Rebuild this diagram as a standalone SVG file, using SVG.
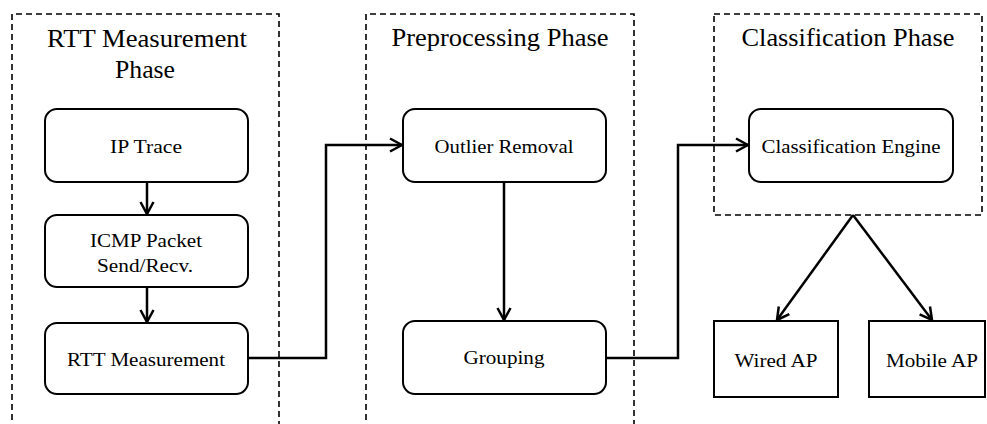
<svg xmlns="http://www.w3.org/2000/svg" width="987" height="424" viewBox="0 0 987 424">
<style>
.phase{fill:none;stroke:#000;stroke-width:1.6;stroke-dasharray:6,4}
.node{fill:#fff;stroke:#000;stroke-width:2}
.t{font-family:'Liberation Serif','Times New Roman',Times,serif;font-size:19.5px;fill:#000;text-anchor:middle}
.h{font-family:'Liberation Serif','Times New Roman',Times,serif;font-size:25px;fill:#000;text-anchor:middle}
.c{fill:none;stroke:#000;stroke-width:2.5;stroke-linejoin:miter}
</style>
<defs>
<marker id="ah" viewBox="0 0 16 16" refX="14" refY="8" markerWidth="16" markerHeight="16" markerUnits="userSpaceOnUse" orient="auto">
<path d="M2,1.5 L14,8 L2,14.5" fill="none" stroke="#000" stroke-width="2.5"/>
</marker>
</defs>
<rect width="987" height="424" fill="#fff"/>
<g id="phase-rtt">
<path class="phase" d="M12,430 V14 H279 V430"/>
<text class="h" x="147" y="47" textLength="200" lengthAdjust="spacingAndGlyphs">RTT Measurement</text>
<text class="h" x="145" y="78" textLength="60" lengthAdjust="spacingAndGlyphs">Phase</text>
</g>
<g id="phase-pre">
<path class="phase" d="M366,430 V14 H634 V430"/>
<text class="h" x="500" y="46" textLength="217" lengthAdjust="spacingAndGlyphs">Preprocessing  Phase</text>
</g>
<g id="phase-cls">
<rect class="phase" x="714" y="14" width="268" height="201"/>
<text class="h" x="848" y="46" textLength="213" lengthAdjust="spacingAndGlyphs">Classification  Phase</text>
</g>
<g id="connectors">
<line class="c" x1="147" y1="182" x2="147" y2="214" marker-end="url(#ah)"/>
<line class="c" x1="147" y1="287" x2="147" y2="322" marker-end="url(#ah)"/>
<polyline class="c" points="248,358 326,358 326,145 402,145" marker-end="url(#ah)"/>
<line class="c" x1="504" y1="182" x2="504" y2="320" marker-end="url(#ah)"/>
<polyline class="c" points="606,358 678,358 678,145 748,145" marker-end="url(#ah)"/>
<line class="c" x1="853" y1="215" x2="777" y2="320" marker-end="url(#ah)"/>
<line class="c" x1="853" y1="215" x2="932" y2="320" marker-end="url(#ah)"/>
</g>
<g id="ip-trace">
<rect class="node" x="45" y="109" width="203" height="73" rx="12"/>
<text class="t" x="146" y="153" textLength="72" lengthAdjust="spacingAndGlyphs">IP Trace</text>
</g>
<g id="icmp">
<rect class="node" x="45" y="215" width="203" height="72" rx="12"/>
<text class="t" x="146" y="247" textLength="112" lengthAdjust="spacingAndGlyphs">ICMP Packet</text>
<text class="t" x="145" y="272" textLength="96" lengthAdjust="spacingAndGlyphs">Send/Recv.</text>
</g>
<g id="rtt-measurement">
<rect class="node" x="45" y="323" width="203" height="71" rx="12"/>
<text class="t" x="146" y="366" textLength="158" lengthAdjust="spacingAndGlyphs">RTT Measurement</text>
</g>
<g id="outlier-removal">
<rect class="node" x="403" y="109" width="203" height="73" rx="12"/>
<text class="t" x="504" y="153" textLength="139" lengthAdjust="spacingAndGlyphs">Outlier Removal</text>
</g>
<g id="grouping">
<rect class="node" x="403" y="321" width="203" height="73" rx="12"/>
<text class="t" x="504" y="364" textLength="81" lengthAdjust="spacingAndGlyphs">Grouping</text>
</g>
<g id="classification-engine">
<rect class="node" x="749" y="109" width="204" height="73" rx="12"/>
<text class="t" x="851" y="153" textLength="179" lengthAdjust="spacingAndGlyphs">Classification Engine</text>
</g>
<g id="wired-ap">
<rect class="node" x="714" y="321" width="124" height="76"/>
<text class="t" x="776" y="367" textLength="83" lengthAdjust="spacingAndGlyphs">Wired AP</text>
</g>
<g id="mobile-ap">
<rect class="node" x="869" y="321" width="116" height="76"/>
<text class="t" x="932" y="367" textLength="92" lengthAdjust="spacingAndGlyphs">Mobile AP</text>
</g>
</svg>
